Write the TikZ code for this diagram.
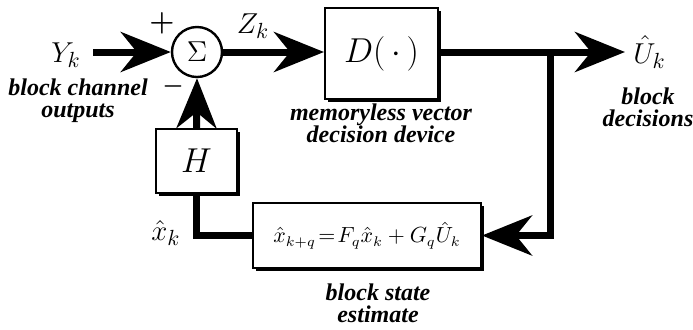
\documentclass[tikz,border=0pt]{standalone}
\usepackage{amssymb}
\usepackage{amsmath}
\usepackage{bm}
\usepackage{fontspec}
\newfontfamily\notefont{Liberation Serif}
\usepackage{tikz}
\usetikzlibrary{positioning,arrows.meta,shadows}

\begin{document}
\begin{tikzpicture}[
  x=0.5pt, y=-0.5pt,
  blk/.style={draw, line width=1pt, fill=white, inner sep=0pt,
              drop shadow={shadow xshift=1.4pt, shadow yshift=-1.4pt,
                           opacity=1, fill=black}},
  sumnode/.style={draw, circle, line width=1.2pt, fill=white,
                  minimum size=25pt, inner sep=0pt},
  note/.style={font=\notefont\fontsize{12}{11}\selectfont\bfseries\itshape,
               align=center, inner sep=0pt},
  sym/.style={font=\fontsize{15}{18}\selectfont, inner sep=1pt},
  sgn/.style={font=\fontsize{15}{15}\selectfont, inner sep=0pt},
  wire/.style={line width=3.5pt},
  sig/.style={wire, -{Stealth[length=25pt, width=20pt, inset=8pt]}},
]
\path[use as bounding box] (0,0) rectangle (693,329);

% blocks
\node[sumnode] (sum) at (197,52) {\fontsize{14}{14}\selectfont$\Sigma$};
\node[blk, minimum width=56.5pt, minimum height=45.5pt] (dec) at (381.5,53.5)
  {\fontsize{18}{18}\selectfont$D(\,\cdot\,)$};
\node[blk, minimum width=40.5pt, minimum height=32pt] (hmat) at (196.5,161)
  {\fontsize{16}{16}\selectfont$H$};
\node[blk, minimum width=114pt, minimum height=32.5pt] (est) at (367,235.5)
  {\fontsize{10.5}{12}\selectfont$\hat{x}_{k+q}\!=\!F_q\hat{x}_k+G_q\hat{U}_k$};

\coordinate (tap) at (551,52);
\coordinate (out) at (625,52);

% labels
\node[sym] (ylab) at (66,55) {$Y_k$};
\node[note, anchor=north] (ynote) at (78,78) {block channel\\outputs};
\node[sgn] (plus) at (162,23) {$\bm{+}$};
\node[sgn, font=\fontsize{12}{12}\selectfont] (minus) at (173,86) {$\bm{-}$};
\node[sym] (zlab) at (253,26) {$Z_k$};
\node[note, anchor=north] (dnote) at (381,103) {memoryless vector\\decision device};
\node[sym, right=3pt of out] (ulab) {$\hat{U}_k$};
\node[note, anchor=north] (unote) at (648,87) {block\\decisions};
\node[sym] (xlab) at (166,233) {$\hat{x}_k$};
\node[note, anchor=north] (enote) at (378,283) {block state\\estimate};

% connections
\draw[sig, shorten <=5pt] (ylab.east |- sum) -- (sum.west);
\draw[sig] (sum.east) -- (sum.east -| dec.west);
\draw[sig] (dec.east |- sum) -- (out);
\draw[sig] (tap) |- (est.east);
\draw[wire] (est.west) -| (hmat.south);
\draw[sig] (hmat.north) -- (sum.south);

\end{tikzpicture}
\end{document}
